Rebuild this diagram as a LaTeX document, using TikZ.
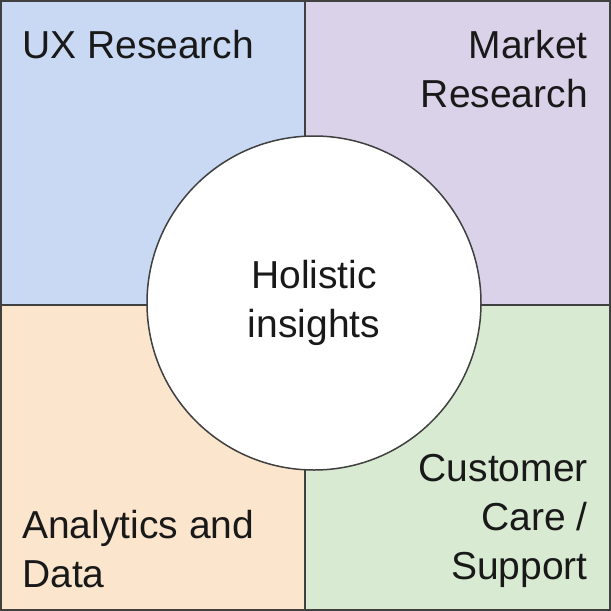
\documentclass[tikz,border=0pt]{standalone}
\usepackage{fontspec}
\setmainfont{Liberation Sans}
\definecolor{qblue}{HTML}{C9D9F3}
\definecolor{qpurple}{HTML}{D9D2E9}
\definecolor{qorange}{HTML}{FCE5CD}
\definecolor{qgreen}{HTML}{D9EAD3}
\definecolor{qline}{HTML}{404040}
\begin{document}
\begin{tikzpicture}[x=1pt,y=-1pt,
  quad/.style={draw=qline,line width=1.5pt},
  lbl/.style={font=\fontsize{39}{49}\selectfont,inner sep=0pt,text=black!90}]
\useasboundingbox (0,0) rectangle (611,611);
\fill[qblue] (1,1) rectangle (305,305);
\fill[qpurple] (305,1) rectangle (610,305);
\fill[qorange] (1,305) rectangle (305,610);
\fill[qgreen] (305,305) rectangle (610,610);
\draw[quad] (1,1) rectangle (610,610);
\draw[quad] (305,1) -- (305,610);
\draw[quad] (1,305) -- (610,305);
\node[circle,draw=qline,line width=1.5pt,fill=white,minimum size=334pt,inner sep=0pt] (c) at (314,303) {};
\node[lbl,align=center] (h) at (314,303) {Holistic\\insights};
\node[lbl,anchor=north west] (ux) at (22,30) {UX Research};
\node[lbl,anchor=north east,align=right] (mr) at (588,30) {Market\\Research};
\node[lbl,anchor=south west,align=left] (ad) at (22,588) {Analytics and\\Data};
\node[lbl,anchor=south east,align=right] (cc) at (588,588) {Customer\\Care /\\Support};
\end{tikzpicture}
\end{document}
